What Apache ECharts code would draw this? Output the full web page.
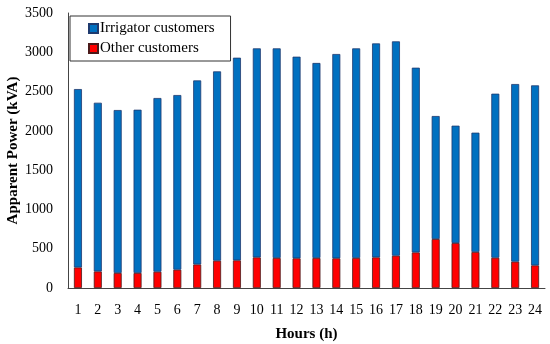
<!DOCTYPE html>
<html><head><meta charset="utf-8">
<script src="https://cdn.jsdelivr.net/npm/echarts@6/dist/echarts.min.js"></script>
<style>html,body{margin:0;padding:0;background:#fff}#c{width:550px;height:344px}</style>
</head><body><div id="c"></div>
<script>
const hours = ['1','2','3','4','5','6','7','8','9','10','11','12','13','14','15','16','17','18','19','20','21','22','23','24'];
const otherCustomers = [262,211,191,191,207,233,300,347,352,390,382,378,382,378,382,390,411,453,623,572,458,385,335,288];
const irrigatorCustomers = [2270,2147,2074,2078,2211,2223,2342,2410,2579,2660,2668,2566,2482,2600,2668,2723,2728,2351,1566,1494,1519,2088,2261,2291];
const yTicks = [0,500,1000,1500,2000,2500,3000,3500];

const font = 'Liberation Serif';
const chart = echarts.init(document.getElementById('c'), null, {renderer:'canvas'});
chart.setOption({
  animation:false,
  grid:{left:68,right:5,top:13,bottom:56,containLabel:false,outerBoundsMode:'none'},
  legend:{
    left:70, top:16, orient:'vertical', itemGap:5,
    itemWidth:9, itemHeight:9, icon:'rect',
    padding:[5,16,5,18],
    borderColor:'#333', borderWidth:1,
    textStyle:{fontFamily:font,fontSize:15,color:'#000',padding:[0,0,0,-3]},
    data:['Irrigator customers','Other customers']
  },
  xAxis:{
    type:'category', data:hours,
    axisLine:{lineStyle:{color:'#444',width:1}},
    axisTick:{show:false},
    axisLabel:{fontFamily:font,fontSize:14,color:'#000',margin:15},
    name:'Hours (h)', nameLocation:'middle', nameGap:39, nameMoveOverlap:false,
    nameTextStyle:{fontFamily:font,fontSize:15,fontWeight:'bold',color:'#000'}
  },
  yAxis:{
    type:'value', min:yTicks[0], max:yTicks[yTicks.length-1], interval:500,
    axisLine:{show:true,lineStyle:{color:'#444',width:1}},
    axisTick:{show:false},
    splitLine:{show:false},
    axisLabel:{fontFamily:font,fontSize:14,color:'#000',margin:15,formatter:v=>String(v)},
    name:'Apparent Power (kVA)', nameLocation:'middle', nameGap:47, nameMoveOverlap:false,
    nameTextStyle:{fontFamily:font,fontSize:15,fontWeight:'bold',color:'#000'}
  },
  series:[
    {name:'Other customers',type:'bar',stack:'t',data:otherCustomers,barWidth:8,
     itemStyle:{color:'#FF0000',borderColor:'#4a1a1a',borderWidth:0.8}},
    {name:'Irrigator customers',type:'bar',stack:'t',data:irrigatorCustomers,barWidth:8,
     itemStyle:{color:'#0070C0',borderColor:'#1F3A6E',borderWidth:0.8}}
  ]
});
</script></body></html>
